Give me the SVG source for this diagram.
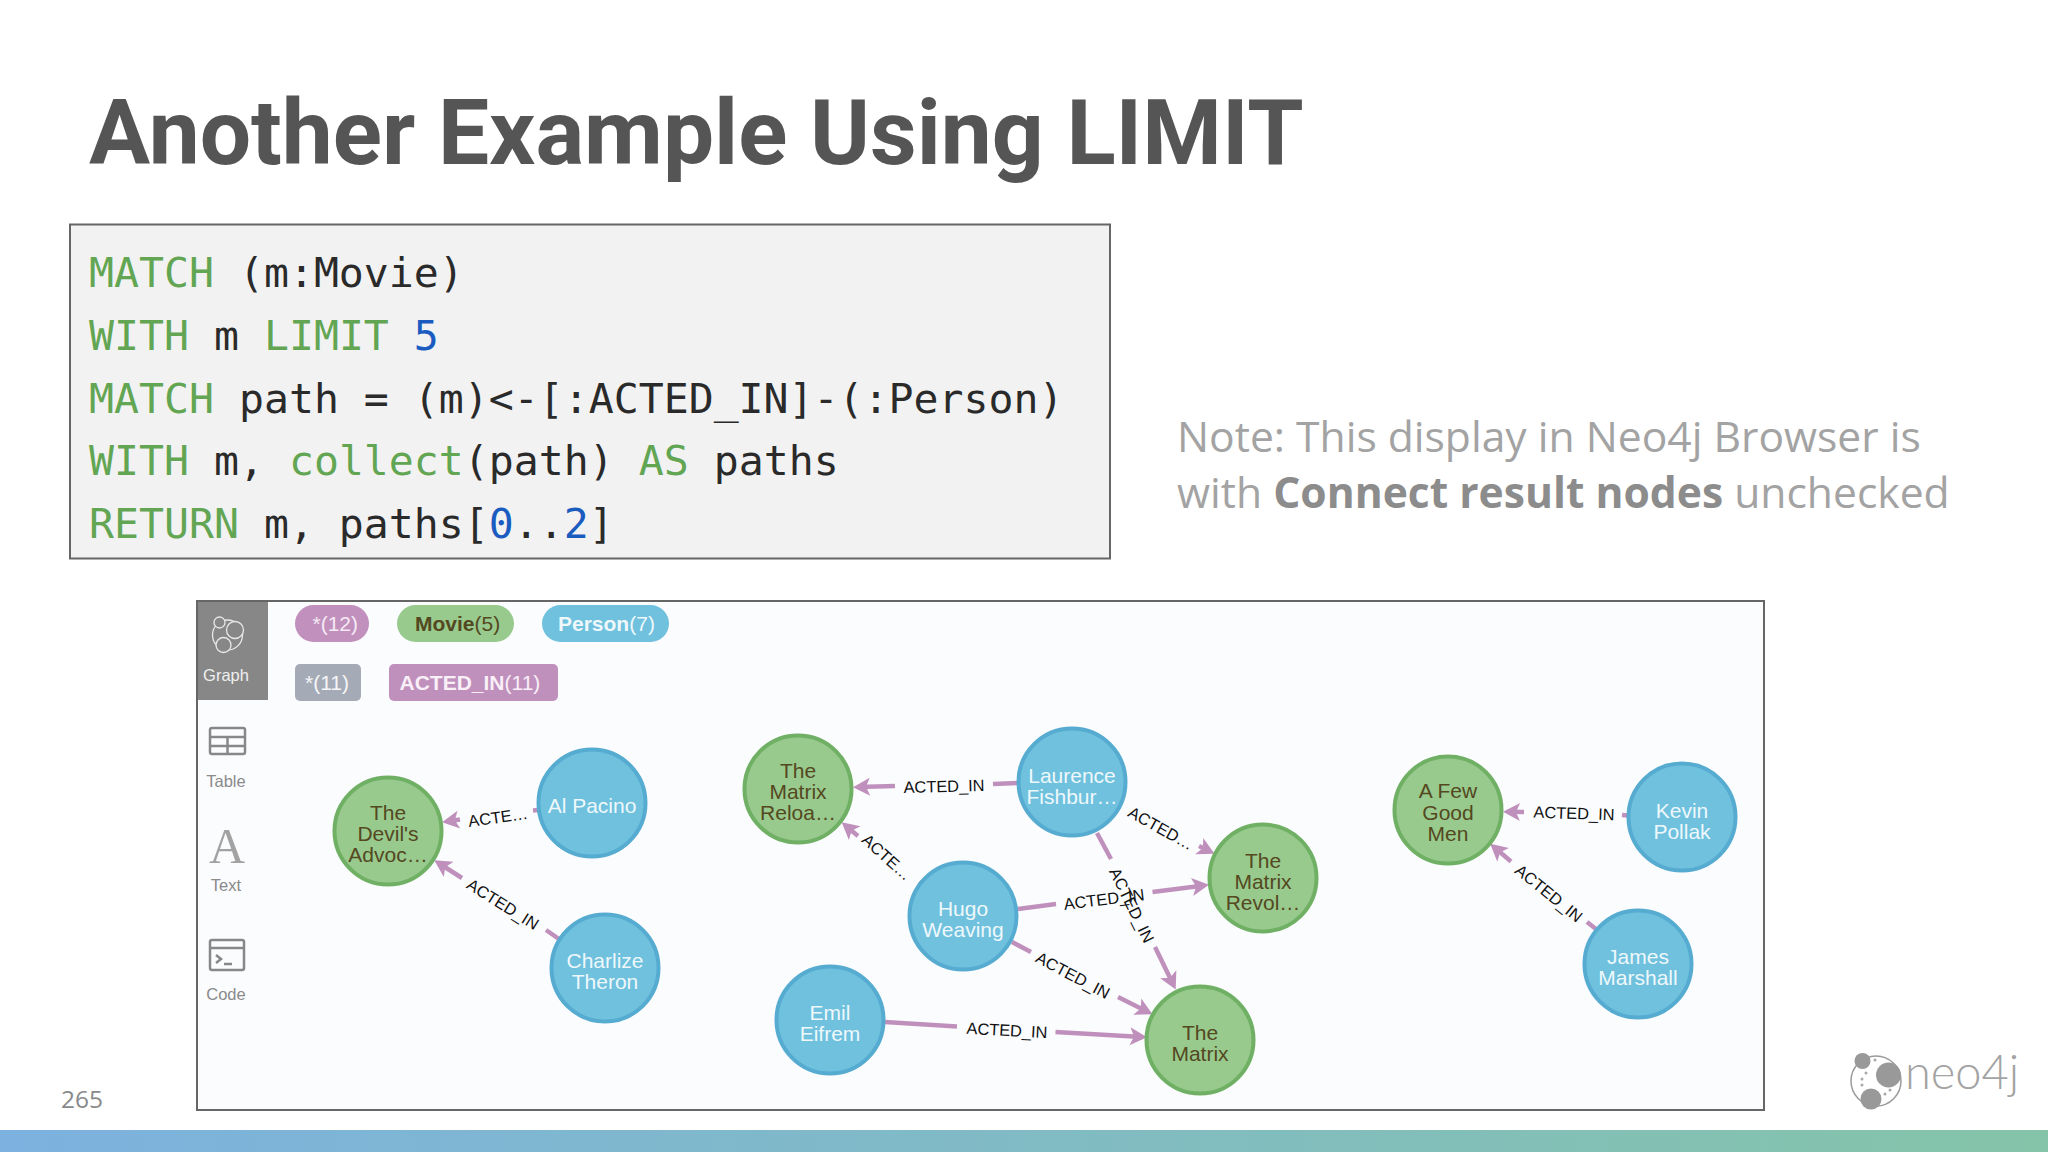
<svg xmlns="http://www.w3.org/2000/svg" width="2048" height="1152" viewBox="0 0 2048 1152">
<defs>
<linearGradient id="bar" x1="0" y1="0" x2="1" y2="0"><stop offset="0" stop-color="#7db1df"/><stop offset="1" stop-color="#85c4a9"/></linearGradient>
<marker id="ah" markerUnits="userSpaceOnUse" markerWidth="24" markerHeight="24" refX="14" refY="12" orient="auto"><path d="M2 3L19 12L2 21L6 12Z" fill="#c090bd"/></marker>
</defs>
<style>
.code{font-family:"DejaVu Sans Mono","Liberation Mono",monospace;font-size:41.5px;fill:#2a2a2a}
.k{fill:#62a553}.n{fill:#1a5cc0}
.e{fill:none;stroke:#c090bd;stroke-width:4.5}
.el{font-family:"Liberation Sans",Arial,sans-serif;font-size:16.4px;fill:#111;text-anchor:middle;dominant-baseline:central}
.mv circle{fill:#98ca8e;stroke:#70b065;stroke-width:4}
.pr circle{fill:#6fc1de;stroke:#56abd0;stroke-width:4}
.nt{font-family:"Liberation Sans",Arial,sans-serif;font-size:21px;text-anchor:middle}
.mv .nt{fill:#54481f}.pr .nt{fill:#eef8fb}
.pill{font-family:"Liberation Sans",Arial,sans-serif;font-size:21px}
.side{font-family:"Liberation Sans",Arial,sans-serif;font-size:16.5px;fill:#8a8a8a;text-anchor:middle}
.ic{fill:none;stroke:#888;stroke-width:2.5}
</style>
<rect width="2048" height="1152" fill="#fff"/>
<text x="89" y="164" font-family="Roboto,sans-serif" font-weight="700" font-size="91" fill="#555555" id="title">Another Example Using LIMIT</text>

<g id="code">
<rect x="70" y="224.500" width="1040" height="334" fill="#f2f2f2" stroke="#666" stroke-width="2"/>
<text class="code" x="89" y="287"><tspan class="k">MATCH</tspan> (m:Movie)</text>
<text class="code" x="89" y="350"><tspan class="k">WITH</tspan> m <tspan class="k">LIMIT</tspan> <tspan class="n">5</tspan></text>
<text class="code" x="89" y="412.500"><tspan class="k">MATCH</tspan> path = (m)&lt;-[:ACTED_IN]-(:Person)</text>
<text class="code" x="89" y="475"><tspan class="k">WITH</tspan> m, <tspan class="k">collect</tspan>(path) <tspan class="k">AS</tspan> paths</text>
<text class="code" x="89" y="537.500"><tspan class="k">RETURN</tspan> m, paths[<tspan class="n">0</tspan>..<tspan class="n">2</tspan>]</text>
</g>

<g id="note" font-family="'Open Sans',sans-serif" font-size="42.6" fill="#a3a3a3">
<text x="1177" y="452">Note: This display in Neo4j Browser is</text>
<text x="1177" y="508">with <tspan font-weight="700" fill="#8c8c8c">Connect result nodes</tspan> unchecked</text>
</g>

<g id="panel">
<rect x="197" y="601" width="1567" height="509" fill="#fbfcfe" stroke="#666" stroke-width="2"/>
<rect x="198" y="602" width="70" height="98" fill="#878787"/>
</g>

<g id="sidebar">
<g fill="none" stroke="#e8e8e8" stroke-width="1.300">
<circle cx="227.500" cy="635" r="15"/><circle cx="219.500" cy="622.500" r="5.500" fill="#878787"/><circle cx="235" cy="630" r="8.500" fill="#878787"/><circle cx="223.500" cy="645" r="7.500" fill="#878787"/>
</g>
<text class="side" x="226" y="680.500" style="fill:#efefef">Graph</text>
<rect class="ic" x="210" y="728" width="35" height="26" rx="2"/>
<path class="ic" d="M210 737H245M210 746H245M227.500 737V754"/>
<text class="side" x="226" y="787">Table</text>
<text x="227" y="863" font-family="'Liberation Serif',serif" font-size="50" fill="#a2a2a2" text-anchor="middle">A</text>
<text class="side" x="226" y="890.500">Text</text>
<rect class="ic" x="210" y="940" width="34" height="30" rx="2"/>
<path class="ic" d="M210 948H244M216 955L221 959L216 963M224 964H232"/>
<text class="side" x="226" y="1000">Code</text>
</g>

<g id="legend" class="pill">
<rect x="295" y="605" width="74" height="37" rx="18.500" fill="#c190bd"/>
<text x="312.500" y="631" fill="#f5eaf4">*(12)</text>
<rect x="397" y="605" width="117" height="37" rx="18.500" fill="#98ca8e"/>
<text x="415" y="631" fill="#54481f"><tspan font-weight="700">Movie</tspan>(5)</text>
<rect x="542" y="605" width="127" height="37" rx="18.500" fill="#6fc1de"/>
<text x="558" y="631" fill="#eef8fb"><tspan font-weight="700">Person</tspan>(7)</text>
<rect x="295" y="664" width="66" height="37" rx="5" fill="#a5abb6"/>
<text x="305" y="689.500" fill="#f5f5f7">*(11)</text>
<rect x="389" y="664" width="169" height="37" rx="5" fill="#c090bd"/>
<text x="399.500" y="689.500" fill="#f8eff7"><tspan font-weight="700">ACTED_IN</tspan>(11)</text>
</g>

<g id="connectors">
<path class="e" d="M538 810L533 810.500"/><path class="e" d="M460 819.500L447 821.500" marker-end="url(#ah)"/>
<text class="el" transform="translate(498 817) rotate(-8)">ACTE…</text>
<path class="e" d="M559 939L546 930"/><path class="e" d="M462 878L438.500 863" marker-end="url(#ah)"/>
<text class="el" transform="translate(503 904) rotate(32)">ACTED_IN</text>
<path class="e" d="M1018 783L993 784"/><path class="e" d="M895 786L858 787" marker-end="url(#ah)"/>
<text class="el" transform="translate(944 786) rotate(-1.500)">ACTED_IN</text>
<path class="e" d="M923 885L919 882"/><path class="e" d="M858 836L845.500 825.500" marker-end="url(#ah)"/>
<text class="el" transform="translate(887 857) rotate(42)">ACTE…</text>
<path class="e" d="M1199 846L1210 851.500" marker-end="url(#ah)"/>
<text class="el" transform="translate(1161 828) rotate(29)">ACTED…</text>
<path class="e" d="M1097 833L1111 859"/><path class="e" d="M1155 947L1173.500 985" marker-end="url(#ah)"/>
<text class="el" transform="translate(1132 905) rotate(64)">ACTED_IN</text>
<path class="e" d="M1018 909L1056 904"/><path class="e" d="M1152.500 892L1204 885.500" marker-end="url(#ah)"/>
<text class="el" transform="translate(1104 899) rotate(-7)">ACTED_IN</text>
<path class="e" d="M1012 942L1031 952"/><path class="e" d="M1118 997L1148 1012" marker-end="url(#ah)"/>
<text class="el" transform="translate(1073 975) rotate(28)">ACTED_IN</text>
<path class="e" d="M885 1022L957 1026.500"/><path class="e" d="M1055.500 1032L1142 1037" marker-end="url(#ah)"/>
<text class="el" transform="translate(1007 1030) rotate(3)">ACTED_IN</text>
<path class="e" d="M1628 815.500L1622 815"/><path class="e" d="M1524 812L1508 811.800" marker-end="url(#ah)"/>
<text class="el" transform="translate(1574 813) rotate(2)">ACTED_IN</text>
<path class="e" d="M1596 929L1587 922"/><path class="e" d="M1511 861.500L1494 847" marker-end="url(#ah)"/>
<text class="el" transform="translate(1549 893) rotate(39)">ACTED_IN</text>
</g>

<g id="n-devils" class="mv"><circle cx="388" cy="831" r="53.500"/><text class="nt" x="388" y="820">The</text><text class="nt" x="388" y="841">Devil's</text><text class="nt" x="388" y="862">Advoc…</text></g>
<g id="n-pacino" class="pr"><circle cx="592" cy="803" r="53.500"/><text class="nt" x="592" y="813">Al Pacino</text></g>
<g id="n-charlize" class="pr"><circle cx="605" cy="968" r="53.500"/><text class="nt" x="605" y="968">Charlize</text><text class="nt" x="605" y="989">Theron</text></g>
<g id="n-reloaded" class="mv"><circle cx="798" cy="789" r="53.500"/><text class="nt" x="798" y="778">The</text><text class="nt" x="798" y="799">Matrix</text><text class="nt" x="798" y="820">Reloa…</text></g>
<g id="n-laurence" class="pr"><circle cx="1072" cy="782" r="53.500"/><text class="nt" x="1072" y="783">Laurence</text><text class="nt" x="1072" y="804">Fishbur…</text></g>
<g id="n-revolutions" class="mv"><circle cx="1263" cy="878" r="53.500"/><text class="nt" x="1263" y="868">The</text><text class="nt" x="1263" y="889">Matrix</text><text class="nt" x="1263" y="910">Revol…</text></g>
<g id="n-hugo" class="pr"><circle cx="963" cy="916" r="53.500"/><text class="nt" x="963" y="916">Hugo</text><text class="nt" x="963" y="937">Weaving</text></g>
<g id="n-emil" class="pr"><circle cx="830" cy="1020" r="53.500"/><text class="nt" x="830" y="1020">Emil</text><text class="nt" x="830" y="1041">Eifrem</text></g>
<g id="n-matrix" class="mv"><circle cx="1200" cy="1040" r="53.500"/><text class="nt" x="1200" y="1040">The</text><text class="nt" x="1200" y="1061">Matrix</text></g>
<g id="n-fewgood" class="mv"><circle cx="1448" cy="810" r="53.500"/><text class="nt" x="1448" y="798">A Few</text><text class="nt" x="1448" y="820">Good</text><text class="nt" x="1448" y="841">Men</text></g>
<g id="n-kevin" class="pr"><circle cx="1682" cy="817" r="53.500"/><text class="nt" x="1682" y="818">Kevin</text><text class="nt" x="1682" y="839">Pollak</text></g>
<g id="n-james" class="pr"><circle cx="1638" cy="964" r="53.500"/><text class="nt" x="1638" y="964">James</text><text class="nt" x="1638" y="985">Marshall</text></g>

<text id="page" x="61" y="1108" font-family="'Open Sans',sans-serif" font-size="24.500" fill="#8a8a8a">265</text>

<g id="logo">
<circle cx="1876" cy="1081" r="25" fill="none" stroke="#9a9a9a" stroke-width="1.500"/>
<circle cx="1862.500" cy="1061" r="8" fill="#999"/><circle cx="1888.500" cy="1075" r="12.500" fill="#999"/><circle cx="1871" cy="1099" r="10.500" fill="#999"/>
<g fill="#a8a8a8"><circle cx="1875" cy="1060" r="1.500"/><circle cx="1866" cy="1073" r="1.500"/><circle cx="1862" cy="1079" r="1.500"/><circle cx="1862" cy="1085" r="1.500"/><circle cx="1885" cy="1094" r="1.500"/><circle cx="1890" cy="1090" r="1.500"/></g>
<text x="1905" y="1089" font-family="Lato,'Open Sans',sans-serif" font-weight="300" font-size="47" fill="#a3a3a3">neo4j</text>
</g>

<rect id="bar-bottom" x="0" y="1130" width="2048" height="22" fill="url(#bar)"/>
</svg>
